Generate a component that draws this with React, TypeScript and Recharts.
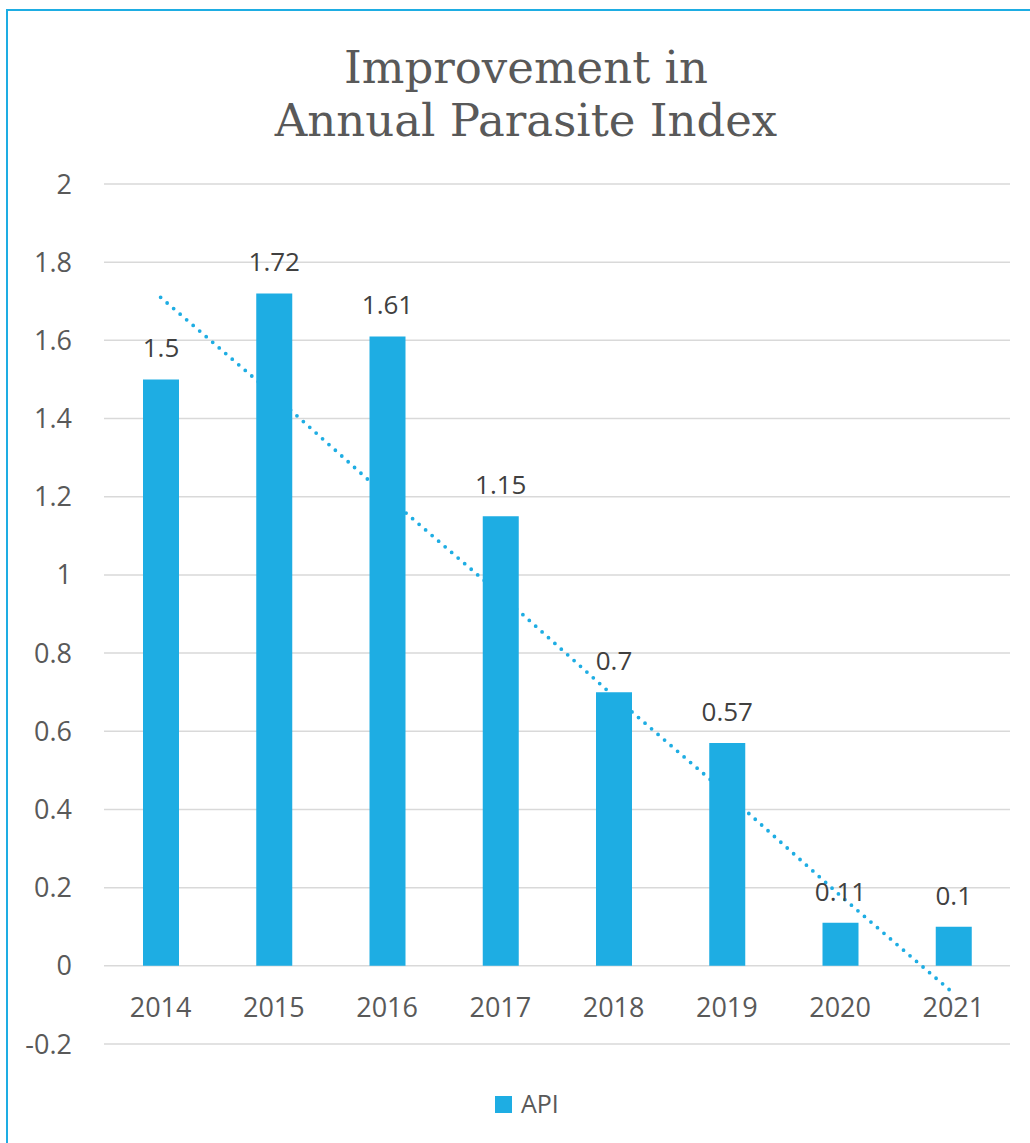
import { ComposedChart, Bar, Line, XAxis, YAxis, CartesianGrid, LabelList } from "recharts";

const years = ["2014", "2015", "2016", "2017", "2018", "2019", "2020", "2021"];
const apiValues = [1.5, 1.72, 1.61, 1.15, 0.7, 0.57, 0.11, 0.1];
// dotted linear trendline at each year
const trendValues = [1.71, 1.46, 1.2, 0.95, 0.69, 0.44, 0.18, -0.07];
const yTicks = [-0.2, 0, 0.2, 0.4, 0.6, 0.8, 1, 1.2, 1.4, 1.6, 1.8, 2];

const data = years.map((year, i) => ({ year, api: apiValues[i], trend: trendValues[i] }));

const BLUE = "#1eade3";
const FONT = "'Open Sans', 'Noto Sans', sans-serif";

function YearTick({ x, y, payload }: any) {
  return (
    <text x={x} y={y - 27} textAnchor="middle" fill="#595959" fontSize={27} fontFamily={FONT}>
      {payload.value}
    </text>
  );
}

export default function App() {
  return (
    <div style={{ position: "absolute", left: 0, top: 0, width: 1030, height: 1143, background: "#fff", overflow: "hidden" }}>
      <div
        style={{
          position: "absolute", left: 6, top: 9, width: 1024, height: 1134,
          borderLeft: `2px solid ${BLUE}`, borderTop: `2px solid ${BLUE}`, boxSizing: "border-box",
        }}
      />
      <div
        style={{
          position: "absolute", left: 0, top: 41, width: 1052, textAlign: "center",
          fontFamily: "'DejaVu Serif', serif", fontSize: 45, lineHeight: "53px", color: "#595959",
        }}
      >
        Improvement in
        <br />
        Annual Parasite Index
      </div>
      <div style={{ position: "absolute", left: 0, top: 0 }}>
        <ComposedChart width={1030} height={1143} data={data} margin={{ top: 184, right: 20, bottom: 59, left: 0 }}>
          <CartesianGrid vertical={false} stroke="#d9d9d9" strokeWidth={1.5} />
          <XAxis dataKey="year" height={40} axisLine={false} tickLine={false} tickSize={0} tickMargin={0} tick={<YearTick />} interval={0} />
          <YAxis
            type="number"
            domain={[-0.2, 2]}
            ticks={yTicks}
            width={104}
            axisLine={false}
            tickLine={false}
            tickSize={0}
            tickMargin={32}
            tick={{ fill: "#595959", fontSize: 27, fontFamily: FONT }}
          />
          <Line
            type="linear"
            dataKey="trend"
            stroke={BLUE}
            strokeWidth={3.8}
            strokeDasharray="0 8.6"
            strokeLinecap="round"
            dot={false}
            activeDot={false}
            legendType="none"
            isAnimationActive={false}
            zIndex={250}
          />
          <Bar dataKey="api" name="API" fill={BLUE} barSize={36} isAnimationActive={false}>
            <LabelList dataKey="api" position="top" offset={22} fill="#404040" fontSize={26} fontFamily={FONT} />
          </Bar>
        </ComposedChart>
      </div>
      <div style={{ position: "absolute", left: 495, top: 1096, width: 17, height: 17, background: BLUE }} />
      <div
        style={{
          position: "absolute", left: 521, top: 1086, fontFamily: FONT, fontSize: 25, lineHeight: "34px", color: "#595959",
        }}
      >
        API
      </div>
    </div>
  );
}
